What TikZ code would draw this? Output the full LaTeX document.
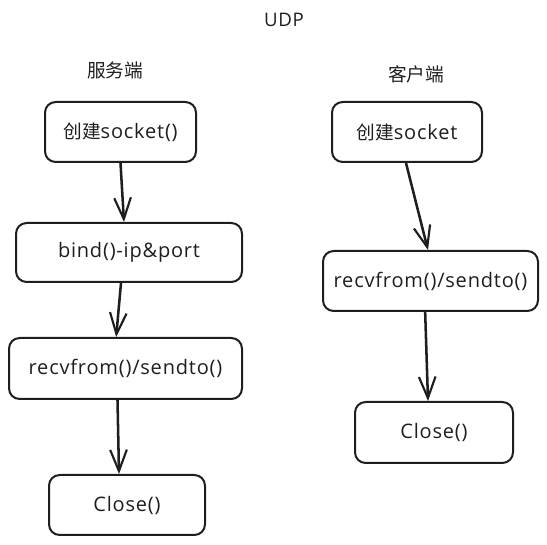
\documentclass[tikz,border=0pt]{standalone}
\usepackage{fontspec}
\setmainfont{Open Sans}[LetterSpace=4]
\newfontfamily\cjk{Noto Sans CJK SC}
\usetikzlibrary{arrows.meta,calc}
\definecolor{ink}{HTML}{1E1E1E}
\tikzset{
  box/.style={draw=ink, line width=1.5pt, rounded corners=8pt, inner sep=0pt, font=\fontsize{15}{17}\selectfont, text=ink},
  flow/.style={draw=ink, line width=1.9pt, -{Straight Barb[length=16pt,width=12.5pt,line width=1.6pt]}},
  lbl/.style={inner sep=0pt, text=ink}
}
\begin{document}
\begin{tikzpicture}[x=0.75pt,y=-0.75pt]
\useasboundingbox (0,0) rectangle (547,545);
\node[lbl, font=\fontsize{14}{16}\selectfont] (udp) at (284,20) {UDP};
\node[lbl, font=\cjk\fontsize{14}{16}\selectfont] (srv) at (115,70) {服务端};
\node[lbl, font=\cjk\fontsize{14}{16}\selectfont] (cli) at (416,74) {客户端};
% server
\node[box, minimum width=151*0.75pt, minimum height=60*0.75pt] (s1) at (120.5,132) {{\cjk\fontsize{14}{16}\selectfont 创建}socket()};
\node[box, minimum width=226*0.75pt, minimum height=59*0.75pt] (s2) at (129,252.5) {bind()-ip\&port};
\node[box, minimum width=233*0.75pt, minimum height=61*0.75pt] (s3) at (125.5,368.5) {recvfrom()/sendto()};
\node[box, minimum width=156*0.75pt, minimum height=60*0.75pt] (s4) at (127,505) {Close()};
% client
\node[box, minimum width=150*0.75pt, minimum height=60*0.75pt] (c1) at (407,132) {{\cjk\fontsize{14}{16}\selectfont 创建}socket};
\node[box, minimum width=215*0.75pt, minimum height=60*0.75pt] (c2) at (430.5,281) {recvfrom()/sendto()};
\node[box, minimum width=158*0.75pt, minimum height=61*0.75pt] (c3) at (434,432.5) {Close()};
% arrows
\draw[flow] ([xshift=0pt]s1.south) -- ([xshift=-3.75pt]s2.north);
\draw[flow] ([xshift=-6pt]s2.south) -- ([xshift=-7pt]s3.north);
\draw[flow] ([xshift=-6pt]s3.south) -- ([xshift=-6pt]s4.north);
\draw[flow] ([xshift=-0.75pt]c1.south) -- ([xshift=-1.9pt]c2.north);
\draw[flow] ([xshift=-4pt]c2.south) -- ([xshift=-4.5pt]c3.north);
\end{tikzpicture}
\end{document}
